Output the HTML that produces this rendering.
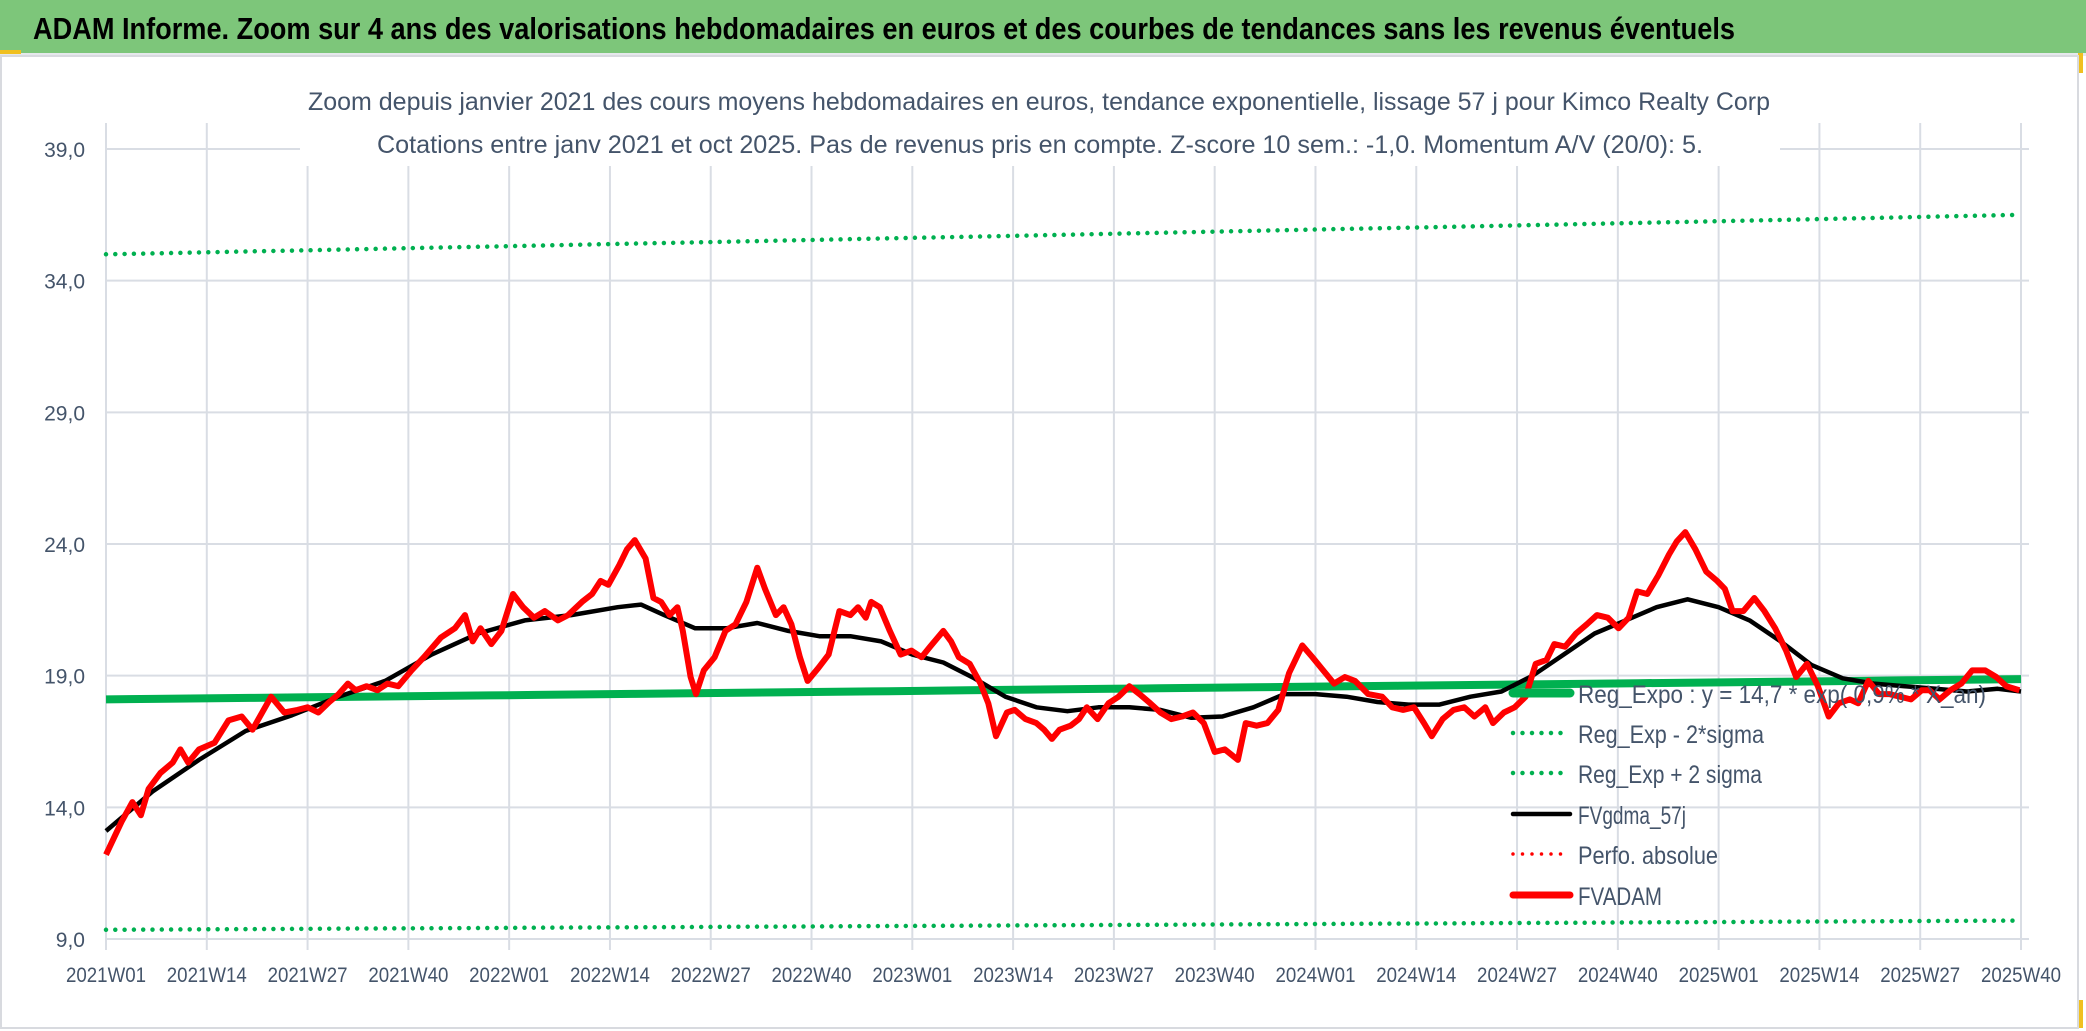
<!DOCTYPE html>
<html><head><meta charset="utf-8">
<style>
html,body{margin:0;padding:0;background:#fff;}
svg{display:block;font-family:"Liberation Sans Narrow","Liberation Sans",sans-serif;}
</style></head>
<body>
<svg id="chart" width="2086" height="1031" viewBox="0 0 2086 1031" xmlns="http://www.w3.org/2000/svg">
  <rect x="0" y="0" width="2086" height="1031" fill="#fff"/>
  <rect x="0" y="0" width="2086" height="53" fill="#7dc67a"/>
  <rect x="0" y="53" width="2086" height="3" fill="#e6e8ec"/>
  <rect x="0" y="50" width="21" height="4" fill="#f0c020"/>
  <rect x="2078" y="53" width="5" height="20" fill="#f0c020"/>
  <rect x="2078" y="1000" width="5" height="28" fill="#f0c020"/>
  <rect x="1" y="56" width="2077" height="972" fill="none" stroke="#d8dadf" stroke-width="2"/>
  <text x="33" y="39" font-size="31" font-weight="bold" fill="#000" textLength="1702" lengthAdjust="spacingAndGlyphs">ADAM Informe. Zoom sur 4 ans des valorisations hebdomadaires en euros et des courbes de tendances sans les revenus éventuels</text>
  <g id="grid"></g>
  <g id="series"></g>
  <rect x="300" y="80" width="1480" height="44" fill="#fff"/>
  <rect x="300" y="124" width="1480" height="42" fill="#fff"/>
  <text x="308" y="110" font-size="25" fill="#44546a" textLength="1462" lengthAdjust="spacingAndGlyphs">Zoom depuis janvier 2021 des cours moyens hebdomadaires en euros, tendance exponentielle, lissage 57 j pour Kimco Realty Corp</text>
  <text x="377" y="153" font-size="25" fill="#44546a" textLength="1326" lengthAdjust="spacingAndGlyphs">Cotations entre janv 2021 et oct 2025. Pas de revenus pris en compte. Z-score 10 sem.: -1,0. Momentum A/V (20/0): 5.</text>
  <g id="axes"></g>
  <g id="legend"></g>
</svg>
<script>
// ---- data ----
const xTickLabels = ["2021W01","2021W14","2021W27","2021W40","2022W01","2022W14","2022W27","2022W40","2023W01","2023W14","2023W27","2023W40","2024W01","2024W14","2024W27","2024W40","2025W01","2025W14","2025W27","2025W40"];
const yTicks = [9,14,19,24,29,34,39];
const yTickLabels = ["9,0","14,0","19,0","24,0","29,0","34,0","39,0"];
const fvWeeks = [0,2,3.4,4.5,5.5,7,8.6,9.6,10.6,12,14,15.8,17.5,18.9,21.3,23,24.7,26,27.4,28.8,30,31.2,32.2,33.6,35,36.3,37.7,39.4,41,43.2,45,46.3,47.3,48.3,49.7,51,52.5,53.8,55.2,56.6,58.3,59.6,61.4,62.7,63.8,64.8,66.2,67.2,68.2,69.6,70.6,71.6,72.7,73.7,74.4,75.4,76.1,77.1,78.5,79.9,81.2,82.6,84,85,86.4,87.4,88.4,89.5,90.5,91.9,93.2,94.6,96,97,98,98.7,99.8,101.1,102.5,103.9,105.2,106.3,108,109,110,111.4,112.8,113.8,114.8,116.2,117.2,118.6,120,121,122,123,124.4,125.5,126.5,127.9,129.3,130.6,132,133.3,134.7,136,137.4,138.8,140.2,141.6,143,144.3,146,147,148.4,149.8,151.2,152.6,154.3,155.6,157,158.4,159.8,161.1,162.8,164.6,165.9,167.3,168.7,170,171,172.4,173.8,175.2,176.5,177.9,178.9,180.3,181.7,183.1,184.4,185.8,186.8,188.2,189.6,191,192.3,193.7,195.1,196.4,197.5,198.8,200.2,201.6,202.6,203.7,205,206.4,207.8,208.8,209.8,211.2,212.6,213.9,215.3,216.7,218,219.4,220.8,222.2,223.5,224.9,226,227.3,228.7,230,231.4,232.8,234.2,235.2,236.5,237.9,239.3,240.7,242.4,243.8,245.1,246.8];
const fvValues = [12.2,13.45,14.2,13.7,14.7,15.3,15.7,16.2,15.7,16.2,16.45,17.3,17.45,16.95,18.2,17.6,17.7,17.8,17.6,18,18.3,18.7,18.45,18.6,18.45,18.7,18.6,19.2,19.7,20.45,20.8,21.3,20.3,20.8,20.2,20.7,22.1,21.6,21.2,21.45,21.1,21.3,21.8,22.1,22.6,22.45,23.2,23.8,24.15,23.45,21.95,21.8,21.3,21.6,20.7,18.95,18.3,19.2,19.7,20.7,20.95,21.8,23.1,22.3,21.3,21.6,20.95,19.7,18.8,19.3,19.8,21.45,21.3,21.6,21.2,21.8,21.6,20.7,19.8,19.95,19.7,20.1,20.7,20.3,19.7,19.45,18.7,17.95,16.7,17.6,17.7,17.35,17.2,16.95,16.6,16.95,17.1,17.35,17.8,17.35,17.95,18.2,18.6,18.3,17.95,17.6,17.35,17.45,17.6,17.2,16.1,16.2,15.8,17.2,17.1,17.2,17.7,19.1,20.15,19.7,19.2,18.7,18.95,18.8,18.3,18.2,17.8,17.7,17.8,17.2,16.7,17.35,17.7,17.8,17.45,17.8,17.2,17.6,17.8,18.2,19.45,19.6,20.2,20.1,20.6,20.95,21.3,21.2,20.8,21.2,22.2,22.1,22.8,23.6,24.1,24.45,23.8,22.95,22.6,22.3,21.45,21.45,21.95,21.45,20.8,19.95,18.95,19.45,18.6,17.45,17.95,18.1,17.95,18.8,18.3,18.3,18.2,18.1,18.45,18.45,18.1,18.45,18.7,19.2,19.2,18.95,18.6,18.45];
const maWeeks = [0,6,12,18,24,30,36,42,48,54,60,66,69,72,76,80,84,88,92,96,100,104,108,112,116,120,124,128,132,136,140,144,148,152,156,160,164,168,172,176,180,184,188,192,196,200,204,208,212,216,220,224,228,232,236,240,244,247];
const maValues = [13.1,14.6,15.8,16.9,17.5,18.2,18.8,19.8,20.6,21.1,21.3,21.6,21.7,21.3,20.8,20.8,21.0,20.7,20.5,20.5,20.3,19.8,19.5,18.9,18.2,17.8,17.65,17.8,17.8,17.7,17.4,17.45,17.8,18.3,18.3,18.2,18.0,17.9,17.9,18.2,18.4,19.0,19.8,20.6,21.1,21.6,21.9,21.6,21.1,20.3,19.4,18.9,18.7,18.6,18.5,18.4,18.5,18.4];
const trendWeeks = [0,247];
const trendValues = [18.1,18.87];
const lowerValues = [9.35,9.7];
const upperValues = [35.0,36.5];

// ---- scales ----
const X0 = 106, X1 = 2021, NW = 247;
const Y9 = 939, Y39 = 149;
function xs(w){ return X0 + (X1 - X0) * w / NW; }
function ys(v){ return Y9 + (Y39 - Y9) * (v - 9) / 30; }
const NS = "http://www.w3.org/2000/svg";
function mk(tag, attrs, parent){ const e = document.createElementNS(NS, tag); for (const k in attrs) e.setAttribute(k, attrs[k]); parent.appendChild(e); return e; }
const grid = document.getElementById('grid');
const axes = document.getElementById('axes');
const series = document.getElementById('series');
const legend = document.getElementById('legend');

// grid
yTicks.forEach((v, i) => {
  const l = mk('line', {x1: X0, x2: 2029, y1: ys(v), y2: ys(v), stroke: '#d9dde4', 'stroke-width': 2}, grid);
  
  
  const t = mk('text', {x: 85, y: ys(v) + 8, 'font-size': 21, fill: '#44546a', 'text-anchor': 'end'}, axes);
  t.textContent = yTickLabels[i];
  
  
});
xTickLabels.forEach((lab, i) => {
  const w = Math.min(i * 13, NW);
  const l = mk('line', {x1: xs(w), x2: xs(w), y1: 123, y2: 950, stroke: '#d9dde4', 'stroke-width': 2}, grid);
  
  
  const t = mk('text', {x: xs(w), y: 982, 'font-size': 21, fill: '#44546a', 'text-anchor': 'middle', textLength: 80, lengthAdjust: 'spacingAndGlyphs'}, axes);
  t.textContent = lab;
  
  
});

function expPath(vals, n){
  const pts = [];
  for (let k = 0; k <= n; k++){
    const w = trendWeeks[0] + (trendWeeks[1] - trendWeeks[0]) * k / n;
    const v = vals[0] * Math.pow(vals[1] / vals[0], k / n);
    pts.push(xs(w).toFixed(1) + ',' + ys(v).toFixed(1));
  }
  return 'M' + pts.join('L');
}
function linePath(ws, vs){
  return 'M' + ws.map((w, i) => xs(w).toFixed(1) + ',' + ys(vs[i]).toFixed(1)).join('L');
}
const trend = mk('path', {d: expPath(trendValues, 40), fill: 'none', stroke: '#00b050', 'stroke-width': 8}, series);


const lower = mk('path', {d: expPath(lowerValues, 40), fill: 'none', stroke: '#00b050', 'stroke-width': 4.5, 'stroke-dasharray': '0 9.3', 'stroke-linecap': 'round'}, series);


const upper = mk('path', {d: expPath(upperValues, 40), fill: 'none', stroke: '#00b050', 'stroke-width': 4.5, 'stroke-dasharray': '0 9.3', 'stroke-linecap': 'round'}, series);


const ma = mk('path', {d: linePath(maWeeks, maValues), fill: 'none', stroke: '#000', 'stroke-width': 4.5, 'stroke-linejoin': 'round'}, series);


const fv = mk('path', {d: linePath(fvWeeks, fvValues), fill: 'none', stroke: '#ff0000', 'stroke-width': 6, 'stroke-linejoin': 'round'}, series);



// legend
const legItems = [
  {label: 'Reg_Expo : y = 14,7 * exp( 0,9% * X_an)', color: '#00b050', w: 9, dash: null, y: 693, len: 408, name: 'legend-entry-reg-expo'},
  {label: 'Reg_Exp - 2*sigma', color: '#00b050', w: 4.5, dash: '0 9.5', y: 733, len: 186, name: 'legend-entry-minus-2sigma'},
  {label: 'Reg_Exp + 2 sigma', color: '#00b050', w: 4.5, dash: '0 9.5', y: 773, len: 184, name: 'legend-entry-plus-2sigma'},
  {label: 'FVgdma_57j', color: '#000', w: 4.5, dash: null, y: 814, len: 108, name: 'legend-entry-fvgdma'},
  {label: 'Perfo. absolue', color: '#ff0000', w: 3.5, dash: '0 9.5', y: 854, len: 140, name: 'legend-entry-perfo'},
  {label: 'FVADAM', color: '#ff0000', w: 7, dash: null, y: 895, len: 84, name: 'legend-entry-fvadam'}
];
legItems.forEach(it => {
  const g = mk('g', {}, legend);
  
  
  const a = {x1: 1513, x2: 1570, y1: it.y, y2: it.y, stroke: it.color, 'stroke-width': it.w, 'stroke-linecap': 'round'};
  if (it.dash) a['stroke-dasharray'] = it.dash;
  const l = mk('line', a, g);
  
  
  const t = mk('text', {x: 1578, y: it.y + 10, 'font-size': 25, fill: '#44546a', textLength: it.len, lengthAdjust: 'spacingAndGlyphs'}, g);
  t.textContent = it.label;
  
  
});
</script>
</body></html>
